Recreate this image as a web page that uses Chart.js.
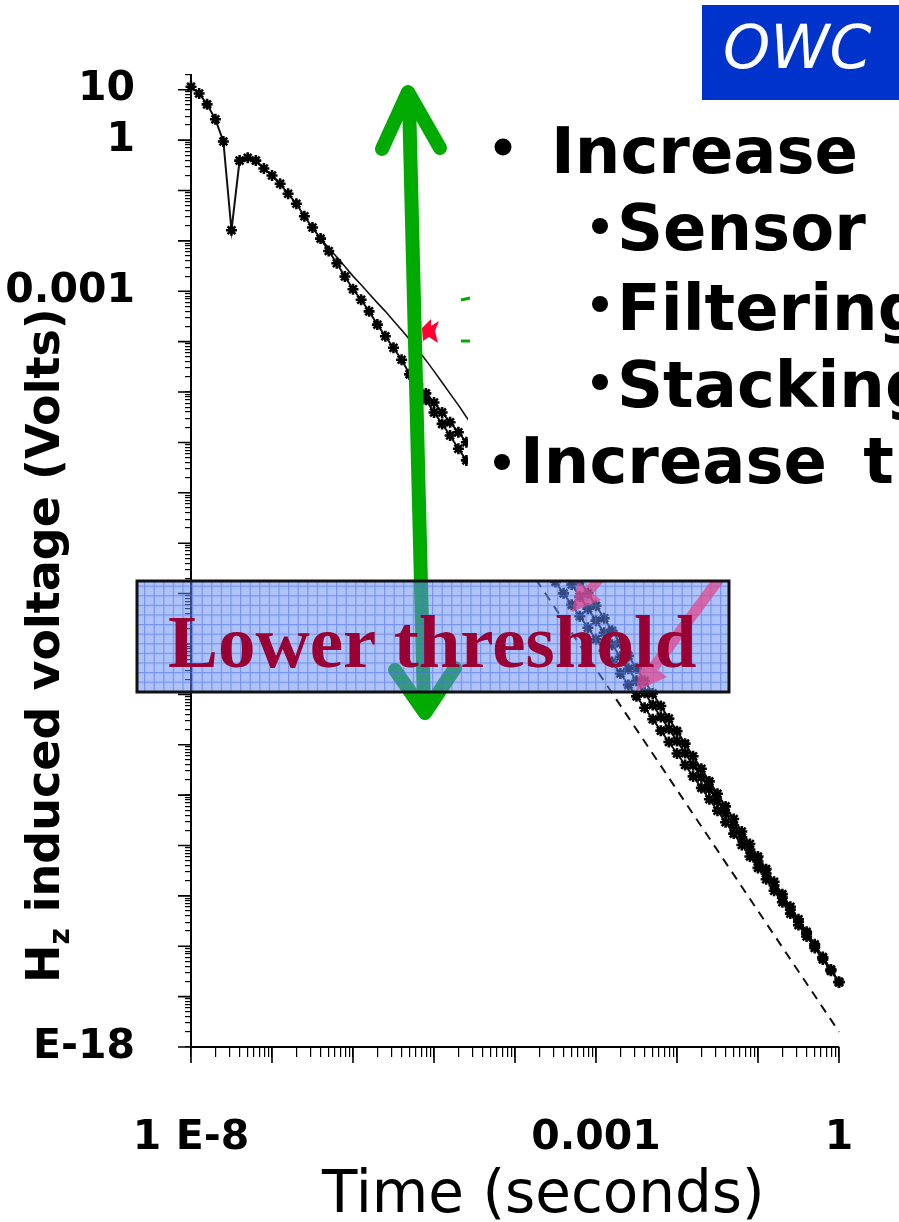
<!DOCTYPE html>
<html>
<head>
<meta charset="utf-8">
<script src="https://cdn.jsdelivr.net/npm/chart.js@4.4.1/dist/chart.umd.min.js"></script>
<style>
  html, body { margin: 0; padding: 0; background: #fff; }
  #wrap { position: relative; width: 899px; height: 1222px; overflow: hidden; background: #fff; }
  #decay { position: absolute; left: 0; top: 0; }
  #deco { position: absolute; left: 0; top: 0; pointer-events: none; }
</style>
</head>
<body>
<div id="wrap">
  <canvas id="decay" width="899" height="1222"></canvas>
  <svg id="deco" width="899" height="1222" viewBox="0 0 899 1222">
    <defs>
      <pattern id="grid" width="9.6" height="9.6" patternUnits="userSpaceOnUse">
        <rect width="9.6" height="9.6" fill="rgba(100,140,240,0.52)"/>
        <path d="M0 0.6 H9.6 M0.6 0 V9.6" stroke="rgba(75,110,235,0.55)" stroke-width="1.2"/>
      </pattern>
      <clipPath id="boxClip"><rect x="137" y="581" width="592" height="111"/></clipPath>
    </defs>

    <!-- green up/down arrow -->
    <g stroke="#00aa00" stroke-width="14" stroke-linecap="round" stroke-linejoin="round" fill="none">
      <line x1="409" y1="100" x2="424" y2="706"/>
      <polyline points="382,149 408,92 440,148"/>
      <polyline points="395,670 425,713 455,668"/>
    </g>
    <!-- red marker -->
    <polygon points="422,328 431,319 431,326 439,321 435,331 438,343 429,337 423,341" fill="#ff0033"/>

    <!-- text panel -->
    <rect x="468" y="113" width="431" height="467" fill="#fff"/>
    <g stroke="#00aa00" stroke-width="3">
      <line x1="461" y1="300" x2="470" y2="298"/>
      <line x1="461" y1="341" x2="470" y2="341"/>
    </g>
    <g font-family="DejaVu Sans" font-weight="bold" font-size="64" fill="#000" word-spacing="14">
      <circle cx="503" cy="147" r="8.5"/>
      <text x="551" y="173">Increase</text>
      <circle cx="600" cy="226" r="8"/>
      <text x="617" y="250">Sensor design</text>
      <circle cx="600" cy="304" r="8"/>
      <text x="617" y="330">Filtering</text>
      <circle cx="600" cy="382" r="8"/>
      <text x="617" y="407">Stacking</text>
      <circle cx="502" cy="462" r="8"/>
      <text x="520" y="483">Increase transmitter</text>
    </g>

    <!-- OWC tag -->
    <rect x="702" y="5" width="197" height="95" fill="#0033cc"/>
    <text x="723" y="68" font-family="DejaVu Sans" font-style="italic" font-size="60" fill="#fff">OWC</text>

    <!-- lower threshold box -->
    <rect x="137" y="581" width="592" height="111" fill="url(#grid)"/>
    <g clip-path="url(#boxClip)" opacity="0.72" fill="#e0468c" stroke="#e0468c">
      <line x1="640" y1="530" x2="590" y2="590" stroke-width="10"/>
      <polygon points="572,612 578,581 601,600" stroke="none"/>
      <line x1="722" y1="575" x2="654" y2="667" stroke-width="11"/>
      <polygon points="636,691 641,657 667,677" stroke="none"/>
    </g>
    <rect x="137" y="581" width="592" height="111" fill="none" stroke="#111" stroke-width="3"/>
    <text x="168" y="667" font-family="Liberation Serif" font-weight="bold" font-size="75" fill="#990033">Lower threshold</text>

    <!-- axis titles -->
    <text transform="translate(59,983) rotate(-90)" font-family="DejaVu Sans" font-weight="bold" font-size="46" fill="#000">H<tspan font-size="28" dy="10">z</tspan><tspan dy="-10"> induced voltage (Volts)</tspan></text>
    <text x="322" y="1212" font-family="DejaVu Sans" font-size="58" fill="#000">Time (seconds)</text>
  </svg>
</div>

<script>
// sample times (s), ten gates per decade
var timeGates = [
  1e-8, 1.26e-8, 1.58e-8, 2e-8, 2.51e-8, 3.16e-8, 3.98e-8, 5.01e-8, 6.31e-8, 7.94e-8,
  1e-7, 1.26e-7, 1.58e-7, 2e-7, 2.51e-7, 3.16e-7, 3.98e-7, 5.01e-7, 6.31e-7, 7.94e-7,
  1e-6, 1.26e-6, 1.58e-6, 2e-6, 2.51e-6, 3.16e-6, 3.98e-6, 5.01e-6, 6.31e-6, 7.94e-6,
  1e-5, 1.26e-5, 1.58e-5, 2e-5, 2.51e-5, 3.16e-5, 3.98e-5, 5.01e-5, 6.31e-5, 7.94e-5,
  1e-4, 1.26e-4, 1.58e-4, 2e-4, 2.51e-4, 3.16e-4, 3.98e-4, 5.01e-4, 6.31e-4, 7.94e-4,
  1e-3, 1.26e-3, 1.58e-3, 2e-3, 2.51e-3, 3.16e-3, 3.98e-3, 5.01e-3, 6.31e-3, 7.94e-3,
  1e-2, 1.26e-2, 1.58e-2, 2e-2, 2.51e-2, 3.16e-2, 3.98e-2, 5.01e-2, 6.31e-2, 7.94e-2,
  0.1, 0.126, 0.158, 0.2, 0.251, 0.316, 0.398, 0.501, 0.631, 0.794,
  1
];

// Hz voltage (V), one entry per gate, null where the curve is not shown
var mainCurve = [
  11.5, 8.45, 5.13, 2.59, 0.94, 0.0163, 0.393, 0.446, 0.393, 0.273,
  0.199, 0.136, 0.0861, 0.0547, 0.0308, 0.0184, 0.0111, 6.3e-3, 3.6e-3, 1.96e-3,
  1.1e-3, 6.8e-4, 4.0e-4, 2.18e-4, 1.28e-4, 7.55e-5, 4.37e-5, 2.25e-5, 1.27e-5, 7.0e-6,
  3.94e-6, 2.33e-6, 1.37e-6, 7.5e-7, 4.4e-7, null, null, null, null, null,
  null, null, null, null, 2.86e-9, 1.7e-9, 1.01e-9, 5.97e-10, 3.54e-10, 2.1e-10,
  1.24e-10, 7.38e-11, 4.38e-11, 2.59e-11, 1.54e-11, 9.12e-12, 5.41e-12, 3.21e-12, 1.9e-12, 1.13e-12,
  6.68e-13, 3.96e-13, 2.35e-13, 1.39e-13, 8.26e-14, 4.9e-14, 2.9e-14, 1.72e-14, 1.02e-14, 6.05e-15,
  3.59e-15, 2.13e-15, 1.26e-15, 7.48e-16, 4.44e-16, 2.63e-16, 1.56e-16, 9.25e-17, 5.48e-17, 3.25e-17,
  1.93e-17
];

var upperBranch = [
  null, null, null, null, null, null, null, null, null, null,
  null, null, null, null, null, null, null, null, null, null,
  null, null, null, null, null, null, null, 2.25e-5, 1.45e-5, 9.4e-6,
  6.2e-6, 3.94e-6, 2.51e-6, 1.59e-6, 1.01e-6, null, null, null, null, null,
  null, null, null, null, null, null, null, null, 1.81e-9, 1.02e-9,
  5.74e-10, 3.24e-10, 1.82e-10, 1.03e-10, 5.79e-11, 3.27e-11, 1.84e-11, 1.04e-11, 5.85e-12, 3.3e-12,
  1.86e-12, 1.05e-12, 5.9e-13, 3.33e-13, 1.87e-13, 1.06e-13, 5.96e-14, 3.36e-14, 1.89e-14, 1.07e-14,
  6.01e-15, 3.39e-15, 1.91e-15, 1.08e-15, 6.07e-16, 3.42e-16, 1.93e-16, 1.09e-16, 6.12e-17, 3.45e-17,
  1.95e-17
];

var middleBranch = [
  null, null, null, null, null, null, null, null, null, null,
  null, null, null, null, null, null, null, null, null, null,
  null, null, null, null, null, null, null, null, null, null,
  null, null, null, null, null, null, null, null, null, null,
  null, null, null, null, 7.87e-9, 4.54e-9, 2.62e-9, 1.51e-9, 8.71e-10, 5.02e-10,
  2.9e-10, 1.67e-10, 9.64e-11, 5.56e-11, 3.21e-11, 1.85e-11, 1.07e-11, 6.15e-12, 3.55e-12, 2.05e-12,
  1.18e-12, 6.81e-13, 3.93e-13, 2.26e-13, 1.31e-13, 7.53e-14, 4.35e-14, 2.51e-14, 1.45e-14, 8.34e-15,
  4.81e-15, 2.77e-15, 1.6e-15, 9.23e-16, 5.32e-16, 3.07e-16, 1.77e-16, 1.02e-16, 5.89e-17, 3.4e-17,
  1.96e-17
];

var plainCurve = [
  null, null, null, null, null, null, null, null, null, null,
  null, null, null, null, null, null, 1.11e-2, 7.2e-3, 4.8e-3, 3.1e-3,
  2.0e-3, 1.35e-3, 8.9e-4, 5.9e-4, 4.0e-4, 2.6e-4, 1.7e-4, 1.1e-4, 6.9e-5, 4.3e-5,
  2.6e-5, 1.55e-5, 9.3e-6, 5.5e-6, 3.2e-6, 1.9e-6, 1.1e-6, null, null, null,
  null, null, null, null, null, null, null, null, null, null,
  null, null, null, null, null, null, null, null, null, null,
  null, null, null, null, null, null, null, null, null, null,
  null, null, null, null, null, null, null, null, null, null,
  null
];

var dashedCurve = [
  null, null, null, null, null, null, null, null, null, null,
  null, null, null, null, null, null, null, null, null, null,
  null, null, null, null, null, null, null, null, null, null,
  null, null, null, null, null, null, 7.3e-8, null, null, null,
  null, null, null, null, null, null, null, null, null, null,
  null, null, 1.06e-11, null, null, null, null, null, null, null,
  null, null, null, null, null, null, null, null, null, null,
  null, null, null, null, null, null, null, null, null, null,
  2.0e-18
];

// axis labels
var xTickValues = [1e-8, 1e-3, 1];
var xTickText = ['1 E-8', '0.001', '1'];
var yTickValues = [10, 1, 1e-3, 1e-18];
var yTickText = ['10', '1', '0.001', 'E-18'];

function toPoints(series) {
  var pts = [];
  for (var i = 0; i < series.length; i++) {
    if (series[i] !== null) pts.push({x: timeGates[i], y: series[i]});
  }
  return pts;
}

function sameDecade(a, b) {
  return Math.abs(Math.log10(a) - Math.log10(b)) < 1e-6;
}

function isDecade(v) {
  var l = Math.log10(v);
  return Math.abs(l - Math.round(l)) < 1e-6;
}

// 1..9 ticks in every decade
function logTicks(scale) {
  var ticks = [];
  var lo = Math.floor(Math.log10(scale.min));
  var hi = Math.ceil(Math.log10(scale.max));
  for (var e = lo; e <= hi; e++) {
    for (var m = 1; m <= 9; m++) {
      var v = m * Math.pow(10, e);
      if (v >= scale.min * 0.999 && v <= scale.max * 1.001) ticks.push({value: v});
    }
  }
  scale.ticks = ticks;
}

function labelFrom(values, texts) {
  return function(value) {
    for (var i = 0; i < values.length; i++) {
      if (sameDecade(value, values[i])) return texts[i];
    }
    return '';
  };
}

// longer marks on the decades
var majorTicks = {
  id: 'majorTicks',
  afterDraw: function(chart) {
    var ctx = chart.ctx;
    var xs = chart.scales.x, ys = chart.scales.y;
    ctx.save();
    ctx.strokeStyle = '#000';
    ctx.lineWidth = 1.6;
    ctx.beginPath();
    xs.ticks.forEach(function(t) {
      if (!isDecade(t.value)) return;
      var px = xs.getPixelForValue(t.value);
      ctx.moveTo(px, xs.top);
      ctx.lineTo(px, xs.top + 16);
    });
    ys.ticks.forEach(function(t) {
      if (!isDecade(t.value)) return;
      var py = ys.getPixelForValue(t.value);
      ctx.moveTo(ys.right, py);
      ctx.lineTo(ys.right - 13, py);
    });
    ctx.stroke();
    ctx.restore();
  }
};

function starSet(series) {
  return {
    data: toPoints(series),
    borderColor: '#111',
    borderWidth: 2,
    pointStyle: 'star',
    pointRadius: 5.5,
    pointBorderWidth: 2.6,
    pointBorderColor: '#000',
    pointBackgroundColor: '#000',
    tension: 0,
    clip: false
  };
}

var tickFont = {family: 'DejaVu Sans', weight: 'bold', size: 41};

var config = {
  type: 'line',
  data: {
    datasets: [
      starSet(mainCurve),
      starSet(upperBranch),
      starSet(middleBranch),
      {
        data: toPoints(plainCurve),
        borderColor: '#111',
        borderWidth: 1.6,
        pointRadius: 0,
        tension: 0,
        clip: false
      },
      {
        data: toPoints(dashedCurve),
        borderColor: '#111',
        borderWidth: 2,
        borderDash: [9, 7],
        pointRadius: 0,
        tension: 0,
        clip: false
      }
    ]
  },
  options: {
    responsive: false,
    devicePixelRatio: 1,
    animation: false,
    events: [],
    layout: {padding: {left: 0, top: 72, right: 60, bottom: 0}},
    plugins: {legend: {display: false}, tooltip: {enabled: false}},
    scales: {
      x: {
        type: 'logarithmic',
        position: 'bottom',
        min: 1e-8,
        max: 1,
        afterBuildTicks: logTicks,
        afterFit: function(s) {
          s.height = 175;
          s.paddingLeft = 0;
          s.paddingRight = 0;
        },
        border: {display: true, color: '#000', width: 2},
        grid: {drawOnChartArea: false, drawTicks: true, tickLength: 10, color: '#000', lineWidth: 1.2},
        ticks: {
          autoSkip: false,
          maxRotation: 0,
          padding: 57,
          color: '#000',
          font: tickFont,
          callback: labelFrom(xTickValues, xTickText)
        }
      },
      y: {
        type: 'logarithmic',
        position: 'left',
        min: 1e-18,
        max: 20,
        afterBuildTicks: logTicks,
        afterFit: function(s) { s.width = 191; },
        border: {display: true, color: '#000', width: 2},
        grid: {drawOnChartArea: false, drawTicks: true, tickLength: 6, color: '#000', lineWidth: 1.2},
        ticks: {
          autoSkip: false,
          padding: 50,
          color: '#000',
          font: tickFont,
          callback: labelFrom(yTickValues, yTickText)
        }
      }
    }
  },
  plugins: [majorTicks]
};

var ctx = document.getElementById('decay').getContext('2d');
window.decayChart = new Chart(ctx, config);
</script>
</body>
</html>
